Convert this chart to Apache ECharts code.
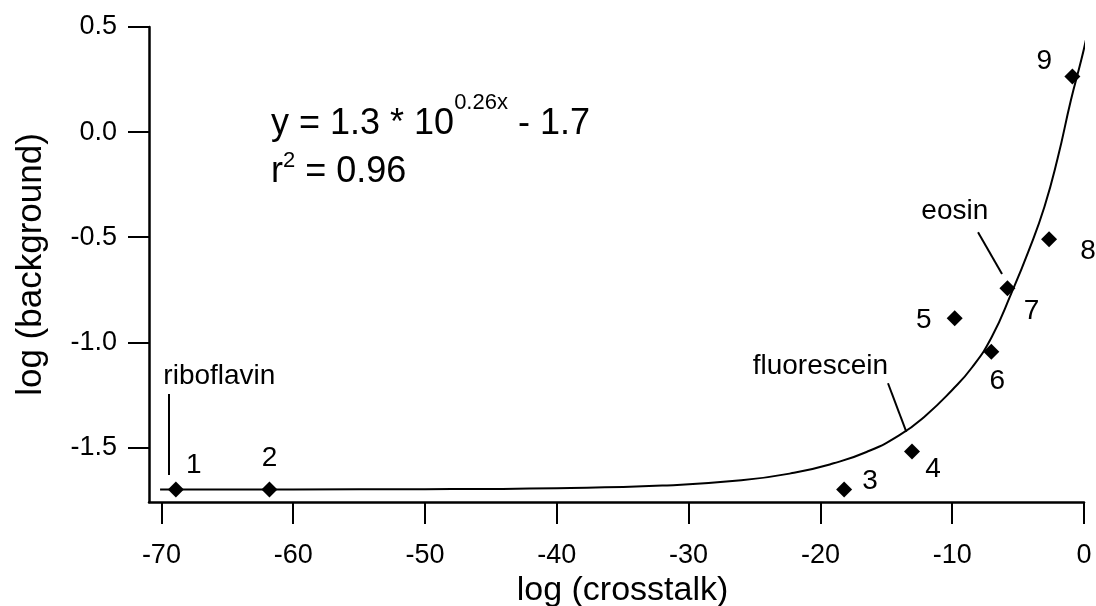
<!DOCTYPE html>
<html>
<head>
<meta charset="utf-8">
<script src="https://cdn.jsdelivr.net/npm/echarts@6/dist/echarts.min.js"></script>
<style>
  html, body { margin: 0; padding: 0; background: #fff; }
  #chart { width: 1096px; height: 606px; }
</style>
</head>
<body>
<div id="chart"></div>
<script>
// Measured dyes: log crosstalk vs log background
const crosstalk  = [-68.9, -61.8, -18.2, -13.05, -9.81, -7.03, -5.81, -2.65, -0.88];
const background = [-1.70, -1.70, -1.70, -1.52, -0.886, -1.045, -0.743, -0.51, 0.265];
const pointNames = ['1', '2', '3', '4', '5', '6', '7', '8', '9'];

// Fitted exponential curve, sampled along its path
const fitCrosstalk  = [-70.1, -60, -50, -40, -32, -26, -22, -19, -16.5, -14, -12, -10, -8.5, -7, -5.5, -4.2, -3, -2, -1, -0.2, 0.15];
const fitBackground = [-1.700, -1.700, -1.699, -1.694, -1.682, -1.657, -1.621, -1.576, -1.522, -1.442, -1.348, -1.227, -1.120, -0.975, -0.765, -0.565, -0.355, -0.125, 0.150, 0.345, 0.440];

// Named dyes and their leader lines (data coordinates)
const annotationNames = ['riboflavin', 'fluorescein', 'eosin'];
const annotationX = [-65.6, -20.0, -9.8];
const annotationY = [-1.164, -1.113, -0.375];
const leaderFrom = [[-69.42, -1.246], [-14.87, -1.195], [-8.04, -0.476]];
const leaderTo   = [[-69.42, -1.632], [-13.48, -1.426], [-6.22, -0.675]];

// Axis ticks
const xTicks = [-70, -60, -50, -40, -30, -20, -10, 0];
const yTicks = [-1.5, -1.0, -0.5, 0.0, 0.5];

// Pixel offsets of the numeric point labels from their markers
const labelOffsets = [[18, -24], [0, -31], [26, -8], [21, 18], [-31, 2], [6, 30], [24, 23], [39, 12], [-28, -15]];

const FONT = '"Liberation Sans", Arial, Helvetica, sans-serif';
const INK = '#000';

const chart = echarts.init(document.getElementById('chart'), null, { renderer: 'canvas' });

const option = {
  backgroundColor: '#fff',
  animation: false,
  textStyle: { fontFamily: FONT, color: INK },
  grid: { left: 149, right: 12, top: 27, bottom: 104, containLabel: false, outerBoundsMode: 'none' },
  xAxis: {
    type: 'value',
    min: -70.94,
    max: 0,
    name: 'log (crosstalk)',
    nameLocation: 'middle',
    nameGap: 71,
    nameTextStyle: { fontSize: 34, color: INK, fontFamily: FONT, padding: [0, 0, 0, 12] },
    axisLine: { onZero: false, lineStyle: { color: INK, width: 2.5 } },
    axisTick: { show: true, inside: false, length: 22, customValues: xTicks, lineStyle: { color: INK, width: 2 } },
    axisLabel: {
      customValues: xTicks, fontSize: 27, color: INK, fontFamily: FONT, margin: 40,
      formatter: v => String(Math.round(v))
    },
    splitLine: { show: false }
  },
  yAxis: {
    type: 'value',
    min: -1.76,
    max: 0.5,
    name: 'log (background)',
    nameLocation: 'middle',
    nameRotate: 90,
    nameGap: 100,
    nameTextStyle: { fontSize: 35, color: INK, fontFamily: FONT },
    axisLine: { onZero: false, lineStyle: { color: INK, width: 2.5 } },
    axisTick: { show: true, inside: false, length: 21, customValues: yTicks, lineStyle: { color: INK, width: 2 } },
    axisLabel: {
      customValues: yTicks, fontSize: 27, color: INK, fontFamily: FONT, margin: 32,
      formatter: v => v.toFixed(1)
    },
    splitLine: { show: false }
  },
  graphic: [
    {
      type: 'text', left: 271, top: 92,
      style: {
        text: '{m|y = 1.3 * 10}{a|0.26x}{m| - 1.7}',
        rich: {
          m: { fontSize: 36, fontFamily: FONT, fill: INK, lineHeight: 50, verticalAlign: 'bottom' },
          a: { fontSize: 22, fontFamily: FONT, fill: INK, lineHeight: 24, verticalAlign: 'top' }
        }
      }
    },
    {
      type: 'text', left: 271, top: 140,
      style: {
        text: '{m|r}{b|2}{m| = 0.96}',
        rich: {
          m: { fontSize: 36, fontFamily: FONT, fill: INK, lineHeight: 50, verticalAlign: 'bottom' },
          b: { fontSize: 22, fontFamily: FONT, fill: INK, lineHeight: 24, verticalAlign: 'top', padding: [10, 0, 0, 0] }
        }
      }
    }
  ],
  series: [
    {
      type: 'line',
      data: fitCrosstalk.map((x, i) => [x, fitBackground[i]]),
      showSymbol: false,
      smooth: 0.5,
      clip: false,
      silent: true,
      lineStyle: { color: INK, width: 2 },
      z: 2
    },
    {
      type: 'lines',
      coordinateSystem: 'cartesian2d',
      silent: true,
      data: leaderFrom.map((p, i) => ({ coords: [p, leaderTo[i]] })),
      lineStyle: { color: INK, width: 2, curveness: 0, opacity: 1 },
      z: 2
    },
    {
      type: 'scatter',
      symbol: 'diamond',
      symbolSize: 16,
      itemStyle: { color: INK, opacity: 1 },
      data: crosstalk.map((x, i) => ({
        value: [x, background[i]],
        name: pointNames[i],
        label: { offset: labelOffsets[i] }
      })),
      label: {
        show: true,
        position: 'inside',
        formatter: p => p.name,
        fontSize: 28,
        color: INK,
        opacity: 1,
        fontFamily: FONT
      },
      z: 3
    },
    {
      type: 'scatter',
      symbolSize: 0,
      silent: true,
      itemStyle: { opacity: 1 },
      data: annotationNames.map((n, i) => ({ value: [annotationX[i], annotationY[i]], name: n })),
      label: {
        show: true,
        position: 'inside',
        formatter: p => p.name,
        fontSize: 28,
        color: INK,
        opacity: 1,
        fontFamily: FONT
      },
      z: 3
    }
  ]
};

chart.setOption(option);
</script>
</body>
</html>
